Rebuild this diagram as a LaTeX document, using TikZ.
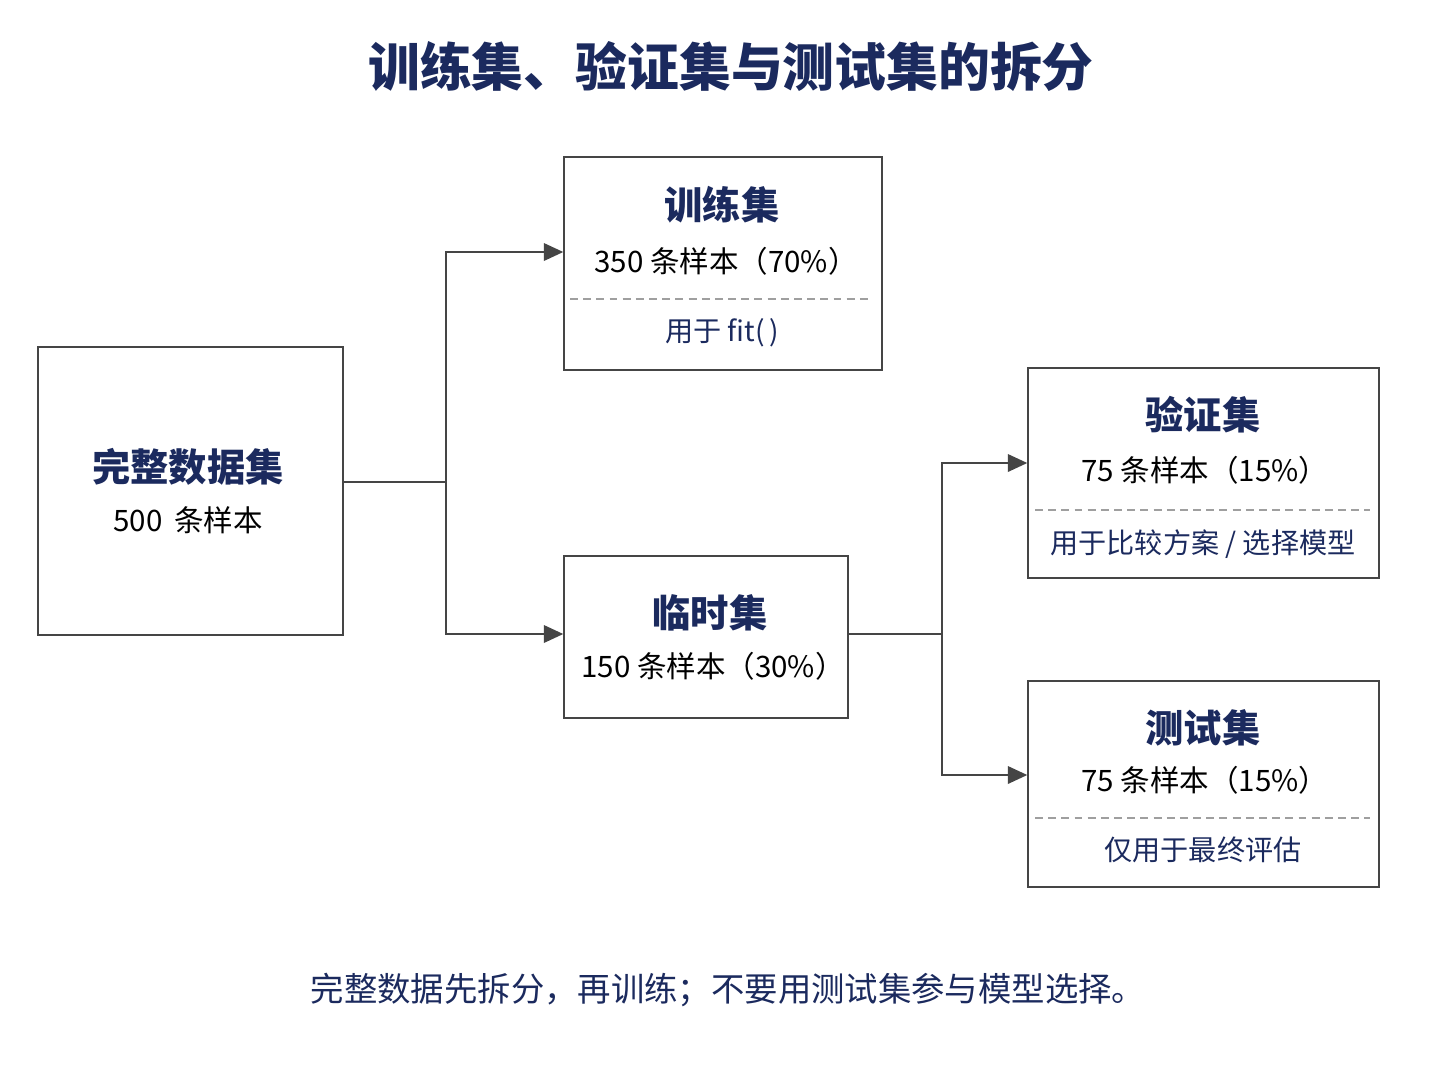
\documentclass[tikz,border=0pt]{standalone}
\usepackage{fontspec}
\usetikzlibrary{arrows.meta}
\setmainfont{Noto Sans CJK SC}
\definecolor{navy}{HTML}{1B2A5E}
\definecolor{edge}{HTML}{454545}
\begin{document}
\begin{tikzpicture}[x=0.02cm,y=-0.02cm,
  box/.style={draw=edge,line width=0.9pt,fill=white,inner sep=0pt},
  head/.style={font=\bfseries\fontsize{21.8}{26}\selectfont,text=navy},
  sub/.style={font=\fontsize{16.8}{20}\selectfont},
  note/.style={font=\fontsize{16}{19}\selectfont,text=navy},
  link/.style={draw=edge,line width=0.9pt},
  arr/.style={link,-{Triangle[length=11pt,width=10pt]}},
  sep/.style={draw=gray!75,line width=0.6pt,dash pattern=on 4.5pt off 3pt}]
  \useasboundingbox[fill=white] (0,0) rectangle (1448,1086);
  % title
  \node[font=\bfseries\fontsize{29.5}{34}\selectfont,text=navy] (title) at (731,67) {训练集、验证集与测试集的拆分};
  % boxes
  \node[box,minimum width=6.1cm,minimum height=5.76cm] (full) at (190.5,491) {};
  \node[box,minimum width=6.36cm,minimum height=4.26cm] (train) at (723,263.5) {};
  \node[box,minimum width=5.68cm,minimum height=3.24cm] (temp) at (706,637) {};
  \node[box,minimum width=7.02cm,minimum height=4.2cm] (val) at (1203.5,473) {};
  \node[box,minimum width=7.02cm,minimum height=4.12cm] (test) at (1203.5,784) {};
  % box texts
  \node[head] (fullhead) at (188,467) {完整数据集};
  \node[sub] (fullsub) at (188,520) {500\, 条样本};
  \node[head] (trainhead) at (722,205) {训练集};
  \node[sub] (trainsub) at (726,261) {350 条样本（70\%）};
  \node[note] (trainnote) at (722,333) {用于 fit(\,)};
  \node[head] (temphead) at (710,613) {临时集};
  \node[sub] (tempsub) at (713,666) {150 条样本（30\%）};
  \node[head] (valhead) at (1203,415) {验证集};
  \node[sub] (valsub) at (1205,470) {75 条样本（15\%）};
  \node[note] (valnote) at (1203,544) {用于比较方案 / 选择模型};
  \node[head] (testhead) at (1203,728) {测试集};
  \node[sub] (testsub) at (1205,780) {75 条样本（15\%）};
  \node[note] (testnote) at (1203,850) {仅用于最终评估};
  % separators
  \draw[sep] (570,299) -- (873,299);
  \draw[sep] (1035,510) -- (1370,510);
  \draw[sep] (1035,818) -- (1370,818);
  % connectors
  \coordinate (split1) at (446,482);
  \coordinate (split2) at (942,634);
  \draw[link] ([yshift=0.18cm]full.east) -- (split1);
  \draw[arr] (split1) |- ([yshift=0.23cm]train.west);
  \draw[arr] (split1) |- ([yshift=0.06cm]temp.west);
  \draw[link] ([yshift=0.06cm]temp.east) -- (split2);
  \draw[arr] (split2) |- ([yshift=0.2cm]val.west);
  \draw[arr] (split2) |- ([yshift=0.18cm]test.west);
  % footer
  \node[font=\fontsize{19}{23}\selectfont,text=navy] (footer) at (728,990) {完整数据先拆分，再训练；不要用测试集参与模型选择。};
\end{tikzpicture}
\end{document}
